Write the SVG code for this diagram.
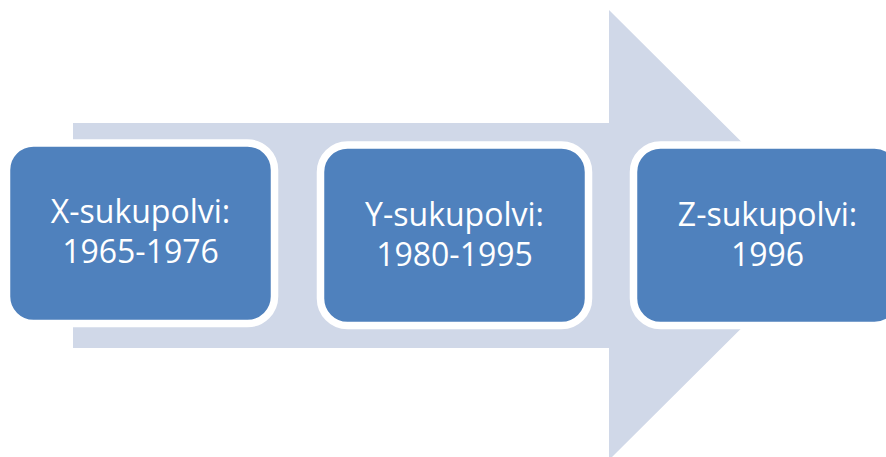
<svg xmlns="http://www.w3.org/2000/svg" width="886" height="457" viewBox="0 0 886 457">
<style>
.box{fill:#4F81BD;stroke:#FFFFFF;stroke-width:7.5}
.lbl{fill:#FFFFFF;font-family:"Open Sans","Noto Sans","Liberation Sans",sans-serif;font-size:32px;text-anchor:middle}
</style>
<rect width="886" height="457" fill="#FFFFFF"/>
<g id="connectors">
<polygon id="arrow" points="73,123 609,123 609,10 835,235 609,460 609,348 73,348" fill="#D0D8E8"/>
</g>
<g id="node1">
<rect class="box" x="6.5" y="143" width="268" height="180.5" rx="27"/>
<text class="lbl" x="140.5" y="223">X-sukupolvi:</text>
<text class="lbl" x="140.5" y="263">1965-1976</text>
</g>
<g id="node2">
<rect class="box" x="320.5" y="145" width="268" height="180.5" rx="27"/>
<text class="lbl" x="454.5" y="226">Y-sukupolvi:</text>
<text class="lbl" x="454.5" y="266">1980-1995</text>
</g>
<g id="node3">
<rect class="box" x="633.5" y="145" width="268" height="180.5" rx="27"/>
<text class="lbl" x="767.5" y="226">Z-sukupolvi:</text>
<text class="lbl" x="767.5" y="266">1996</text>
</g>
</svg>
